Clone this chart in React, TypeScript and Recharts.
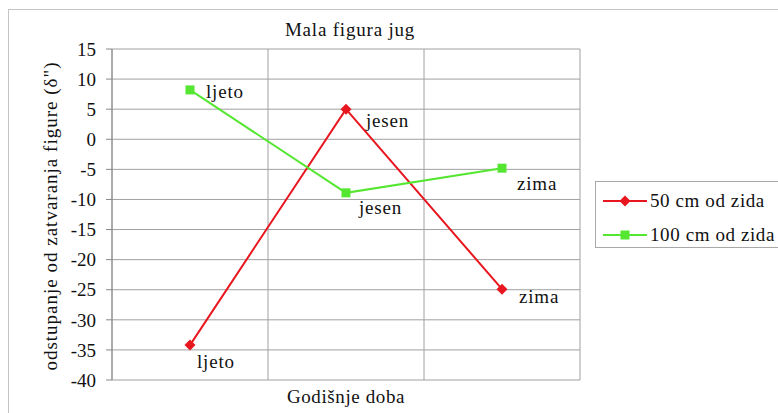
import React from 'react';
import { LineChart, Line, XAxis, YAxis, CartesianGrid, LabelList } from 'recharts';

const seasons = ['ljeto', 'jesen', 'zima'];
const series50 = [-34.2, 5.0, -24.9];
const series100 = [8.2, -8.9, -4.8];
const yTicks = [15, 10, 5, 0, -5, -10, -15, -20, -25, -30, -35, -40];
const seriesNames = ['50 cm od zida', '100 cm od zida'];

const data = seasons.map((s, i) => ({ season: s, a: series50[i], b: series100[i] }));

const RED = '#e8161e';
const GREEN = '#55e632';
const FONT = 'Liberation Serif';
const FS = 19;

const redOffsets = [[7, 23], [20, 18], [17, 14]];
const greenOffsets = [[16, 8], [13, 21], [15, 22]];

const Diamond = (props: any) => {
  const { cx, cy } = props;
  if (cx == null || cy == null) return null;
  const r = 5.5;
  return <path d={`M${cx},${cy - r}L${cx + r},${cy}L${cx},${cy + r}L${cx - r},${cy}Z`} fill={RED} />;
};
const Square = (props: any) => {
  const { cx, cy } = props;
  if (cx == null || cy == null) return null;
  const r = 4.5;
  return <rect x={cx - r} y={cy - r} width={2 * r} height={2 * r} fill={GREEN} />;
};

const makeLabel = (offsets: number[][]) => (props: any) => {
  const { x, y, index, value } = props;
  const o = offsets[index] || [0, 0];
  return (
    <text x={x + o[0]} y={y + o[1]} style={{ fontFamily: FONT, fontSize: FS, letterSpacing: 0.8 }} fill="#111">
      {value}
    </text>
  );
};

const LegendBox = () => (
  <div
    style={{
      position: 'absolute',
      left: 595,
      top: 181,
      border: '1px solid #a8a8a8',
      width: 200,
      height: 67,
      boxSizing: 'border-box',
      fontFamily: FONT,
      fontSize: FS,
      letterSpacing: 0.6,
      color: '#111',
      background: '#fff',
      paddingTop: 5,
    }}
  >
    {seriesNames.map((n, i) => (
      <div key={n} style={{ display: 'flex', alignItems: 'center', height: 28, marginBottom: 6 }}>
        <svg width={56} height={14} style={{ marginLeft: 7 }}>
          <line x1={0} y1={7} x2={44} y2={7} stroke={i === 0 ? RED : GREEN} strokeWidth={2} />
          {i === 0 ? (
            <path d="M22,1.5L27.5,7L22,12.5L16.5,7Z" fill={RED} />
          ) : (
            <rect x={17.5} y={2.5} width={9} height={9} fill={GREEN} />
          )}
        </svg>
        <span style={{ marginLeft: -9, whiteSpace: 'nowrap' }}>{n}</span>
      </div>
    ))}
  </div>
);

export default function App() {
  const textStyle: React.CSSProperties = { fontFamily: FONT, fontSize: FS, color: '#111', whiteSpace: 'nowrap' };
  return (
    <div style={{ position: 'absolute', left: 0, top: 0, width: 778, height: 413, background: '#fff', overflow: 'hidden' }}>
      <div style={{ position: 'absolute', left: 8, top: 9, width: 800, height: 430, border: '1px solid #c4c4c4' }} />
      <div style={{ ...textStyle, letterSpacing: 0.8, position: 'absolute', left: 0, top: 19, width: 700, textAlign: 'center' }}>
        Mala figura jug
      </div>
      <div style={{ ...textStyle, letterSpacing: 0.6, position: 'absolute', left: 112, top: 386, width: 468, textAlign: 'center' }}>
        Godišnje doba
      </div>
      <div
        style={{
          ...textStyle,
          letterSpacing: 1,
          position: 'absolute',
          left: 51 - 200,
          top: 216 - 12,
          width: 400,
          height: 24,
          lineHeight: '24px',
          textAlign: 'center',
          transform: 'rotate(-90deg)',
        }}
      >
        odstupanje od zatvaranja figure (δ")
      </div>
      <div style={{ position: 'absolute', left: 0, top: 0 }}>
        <LineChart width={778} height={413} data={data} margin={{ top: 49, right: 198, bottom: 33, left: 52 }}>
          <CartesianGrid
            stroke="#a0a0a0"
            strokeWidth={1}
            verticalCoordinatesGenerator={({ offset }: any) =>
              seasons.map((_, i) => offset.left + (offset.width * i) / seasons.length).concat([offset.left + offset.width])
            }
          />
          <XAxis dataKey="season" scale="band" tick={false} tickLine={false} axisLine={{ stroke: '#888' }} height={0} />
          <YAxis
            domain={[-40, 15]}
            ticks={yTicks}
            interval={0}
            width={60}
            tickSize={6}
            tickMargin={10}
            tickLine={{ stroke: '#888' }}
            axisLine={{ stroke: '#888' }}
            tick={{ fontFamily: FONT, fontSize: FS, fill: '#111' }}
          />
          <Line
            type="linear"
            dataKey="a"
            name={seriesNames[0]}
            stroke={RED}
            strokeWidth={2}
            dot={<Diamond />}
            activeDot={false}
            isAnimationActive={false}
          >
            <LabelList dataKey="season" content={makeLabel(redOffsets)} />
          </Line>
          <Line
            type="linear"
            dataKey="b"
            name={seriesNames[1]}
            stroke={GREEN}
            strokeWidth={2}
            dot={<Square />}
            activeDot={false}
            isAnimationActive={false}
          >
            <LabelList dataKey="season" content={makeLabel(greenOffsets)} />
          </Line>
        </LineChart>
      </div>
      <LegendBox />
    </div>
  );
}
